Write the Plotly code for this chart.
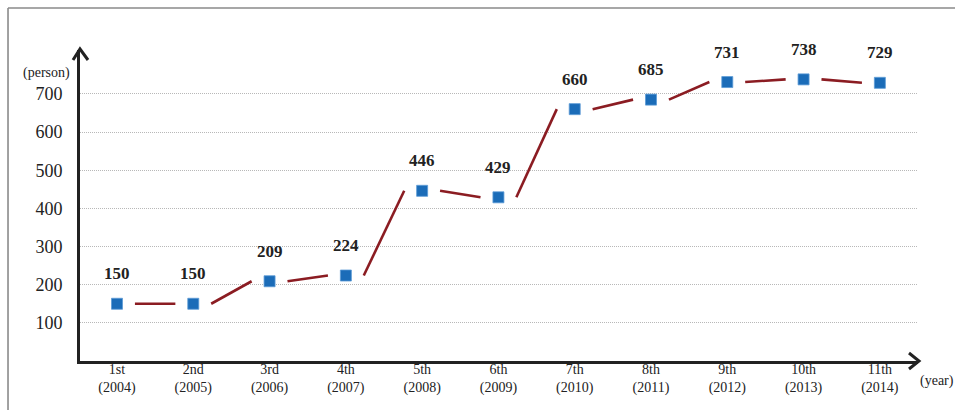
import plotly.graph_objects as go

# Graduates per class, 1st (2004) through 11th (2014)
categories = ["1st<br>(2004)", "2nd<br>(2005)", "3rd<br>(2006)", "4th<br>(2007)",
              "5th<br>(2008)", "6th<br>(2009)", "7th<br>(2010)", "8th<br>(2011)",
              "9th<br>(2012)", "10th<br>(2013)", "11th<br>(2014)"]
persons = [150, 150, 209, 224, 446, 429, 660, 685, 731, 738, 729]
y_ticks = [100, 200, 300, 400, 500, 600, 700]

SERIF = "Liberation Serif, Times New Roman, serif"
LINE_RED = "#8b1c22"
MARK_BLUE = "#1b6cb8"
INK = "#222222"

idx = list(range(len(persons)))

# connector segments leave a gap next to each marker
gap = 0.235
seg_x, seg_y = [], []
for i in range(len(persons) - 1):
    seg_x += [i + gap, i + 1 - gap, None]
    seg_y += [persons[i], persons[i + 1], None]

fig = go.Figure()
fig.add_trace(go.Scatter(x=seg_x, y=seg_y, mode="lines",
                         line=dict(color=LINE_RED, width=2.6),
                         hoverinfo="skip"))
fig.add_trace(go.Scatter(x=idx, y=persons, mode="markers",
                         marker=dict(symbol="square", size=11, color=MARK_BLUE,
                                     line=dict(color="#5c9ad6", width=0.8))))

# value labels above the markers
for i, v in enumerate(persons):
    fig.add_annotation(x=i, y=v, text=f"<b>{v}</b>", showarrow=False,
                       yshift=30, font=dict(family=SERIF, size=17, color=INK))

fig.add_annotation(xref="paper", yref="paper", x=-0.009, y=0.926,
                   text="(person)", showarrow=False, xanchor="right",
                   yanchor="middle",
                   font=dict(family=SERIF, size=14, color=INK))
fig.add_annotation(xref="paper", yref="paper", x=1.0, y=-0.065,
                   text="(year)", showarrow=False, xanchor="left",
                   yanchor="middle",
                   font=dict(family=SERIF, size=14, color=INK))

shapes = [
    # arrow heads on the axes
    dict(type="path", xref="paper", yref="paper", xsizemode="pixel",
         ysizemode="pixel", xanchor=0, yanchor=1,
         path="M -7,-10 L 0,1 L 8,-10",
         line=dict(color=INK, width=3)),
    dict(type="path", xref="paper", yref="paper", xsizemode="pixel",
         ysizemode="pixel", xanchor=1, yanchor=0,
         path="M -9,8 L 1,0 L -9,-8",
         line=dict(color=INK, width=3)),
    # frame lines (top and left)
    dict(type="line", xref="paper", yref="paper", x0=-0.0859, x1=1.06,
         y0=1.135, y1=1.135, line=dict(color="#8a8a8a", width=1.6)),
    dict(type="line", xref="paper", yref="paper", x0=-0.0859, x1=-0.0859,
         y0=1.135, y1=-0.2, line=dict(color="#8a8a8a", width=1.6)),
]

fig.update_layout(
    width=955, height=410,
    margin=dict(l=80, r=37, t=50, b=49),
    paper_bgcolor="white", plot_bgcolor="white",
    showlegend=False,
    shapes=shapes,
    xaxis=dict(range=[-0.485, 10.5], tickmode="array", tickvals=idx,
               ticktext=categories, showgrid=False, zeroline=False,
               showline=True, linecolor=INK, linewidth=3, ticks="",
               automargin=False,
               tickfont=dict(family=SERIF, size=14, color=INK),
               ticklabelstandoff=-7),
    yaxis=dict(range=[0, 815], tickmode="array", tickvals=y_ticks,
               showgrid=True, gridcolor="#b8b8b8", griddash="1px,1px",
               gridwidth=1,
               zeroline=False, showline=True, linecolor=INK, linewidth=3,
               ticks="", automargin=False,
               tickfont=dict(family=SERIF, size=18, color=INK),
               ticklabelstandoff=11),
)

fig.write_html("out.html")
